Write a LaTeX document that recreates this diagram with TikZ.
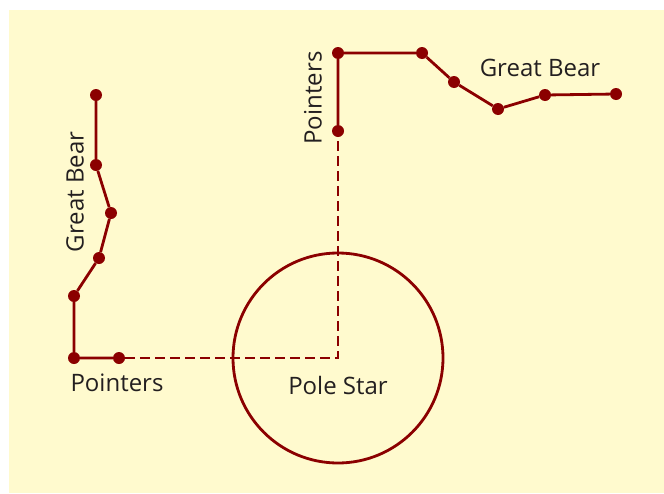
\documentclass[tikz,border=0pt]{standalone}
\usepackage{fontspec}
\setmainfont{Open Sans}
\usetikzlibrary{positioning}
\definecolor{bearred}{RGB}{139,0,0}
\definecolor{skybg}{RGB}{255,250,206}
\definecolor{namegray}{RGB}{35,31,32}
\tikzset{
    star/.style={circle, fill=bearred, inner sep=0pt, minimum size=12pt},
    link/.style={bearred, line width=2.8pt},
    guide/.style={bearred, line width=2.8pt, dash pattern=on 10pt off 5pt},
    starname/.style={text=namegray, font=\fontsize{24}{28}\selectfont, inner sep=0pt}
}

\begin{document}
\begin{tikzpicture}[x=1pt, y=-1pt]
    \useasboundingbox (0,0) rectangle (664,493);
    \fill[skybg] (9,10) rectangle (664,493);
    \node (ring) [draw=bearred, line width=2.8pt, circle, minimum size=210pt, inner sep=0pt] at (338,358) {};
    \coordinate (pole) at (338,358);
    \node (a1) [star] at (96,95) {};
    \node (a2) [star] at (96,165) {};
    \node (a3) [star] at (111,213) {};
    \node (a4) [star] at (99,258) {};
    \node (a5) [star] at (74,296) {};
    \node (a6) [star] at (74,358) {};
    \node (a7) [star] at (119,358) {};
    \node (b1) [star] at (338,131) {};
    \node (b2) [star] at (338,53) {};
    \node (b3) [star] at (422,53) {};
    \node (b4) [star] at (454,82) {};
    \node (b5) [star] at (498,109) {};
    \node (b6) [star] at (545,95) {};
    \node (b7) [star] at (616,94) {};
    \node (bearleft) [starname, rotate=90] at (75,192) {Great Bear};
    \node (bearright) [starname] at (540,68) {Great Bear};
    \node (pointleft) [starname] at (117,383) {Pointers};
    \node (pointright) [starname, rotate=90] at (313,98) {Pointers};
    \node (polename) [starname] at (338,385) {Pole Star};
    \draw [link] (a1) -- (a2) -- (a3) -- (a4) -- (a5) -- (a6) -- (a7);
    \draw [link] (b1) -- (b2) -- (b3) -- (b4) -- (b5) -- (b6) -- (b7);
    \draw [guide] (a7) -- (pole) -- (b1);
\end{tikzpicture}
\end{document}
